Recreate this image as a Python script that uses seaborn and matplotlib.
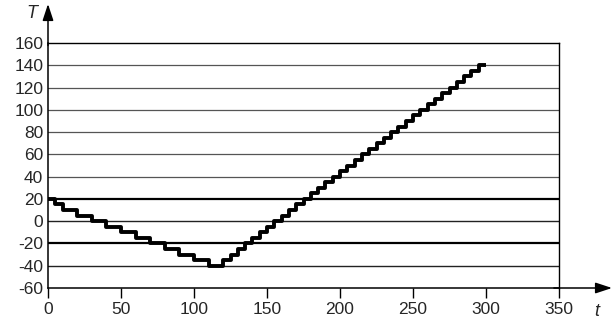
import matplotlib
matplotlib.use("Agg")
import matplotlib.pyplot as plt
import seaborn as sns
import pandas as pd

# ---- data ----
t_down = [0, 5, 10, 20, 30, 40, 50, 60, 70, 80, 90, 100, 110]
T_down = [20, 15, 10, 5, 0, -5, -10, -15, -20, -25, -30, -35, -40]
t_up = [120, 125, 130, 135, 140, 145, 150, 155, 160, 165, 170, 175, 180, 185,
        190, 195, 200, 205, 210, 215, 220, 225, 230, 235, 240, 245, 250, 255,
        260, 265, 270, 275, 280, 285, 290, 295, 300]
T_up = [-35, -30, -25, -20, -15, -10, -5, 0, 5, 10, 15, 20, 25, 30,
        35, 40, 45, 50, 55, 60, 65, 70, 75, 80, 85, 90, 95, 100,
        105, 110, 115, 120, 125, 130, 135, 140, 140]
x_ticks = [0, 50, 100, 150, 200, 250, 300, 350]
y_ticks = [-60, -40, -20, 0, 20, 40, 60, 80, 100, 120, 140, 160]
bold_levels = [20, -20]

df = pd.DataFrame({"t": t_down + t_up, "T": T_down + T_up})

sns.set_style("white")
plt.rcParams["font.family"] = ["Liberation Sans", "DejaVu Sans"]
plt.rcParams["axes.unicode_minus"] = False

fig = plt.figure(figsize=(6.13, 3.25), dpi=100)
ax = fig.add_axes([48 / 613, 37 / 325, 511 / 613, 245 / 325])

# horizontal grid lines
for y in y_ticks[1:-1]:
    if y in bold_levels:
        ax.axhline(y, color="black", lw=1.6, zorder=1)
    elif y > 20:
        ax.axhline(y, color="#555555", lw=0.9, zorder=1)
    else:
        ax.axhline(y, color="#222222", lw=1.0, zorder=1)

sns.lineplot(data=df, x="t", y="T", ax=ax, color="black", lw=2.8,
             drawstyle="steps-post", solid_capstyle="butt", zorder=3,
             sort=False)

ax.set_xlim(0, 350)
ax.set_ylim(-60, 160)
ax.set_xticks(x_ticks)
ax.set_yticks(y_ticks)
ax.set_xlabel("")
ax.set_ylabel("")

for side in ["top", "right"]:
    ax.spines[side].set_visible(True)
    ax.spines[side].set_color("black")
    ax.spines[side].set_linewidth(1.0)
for side in ["left", "bottom"]:
    ax.spines[side].set_color("black")
    ax.spines[side].set_linewidth(1.1)

ax.tick_params(axis="x", direction="out", length=7, width=1.0, color="black",
               pad=3, labelsize=12.5, bottom=True)
ax.tick_params(axis="y", length=0, pad=3.5, labelsize=12.5, left=False)

# axis arrows
ap = dict(arrowstyle="-|>,head_length=1.0,head_width=0.33", color="black",
          lw=1.1, mutation_scale=10, shrinkA=0, shrinkB=0)
ax.annotate("", xy=(0, (288 - 4) / 245), xytext=(0, 0.99),
            xycoords="axes fraction", textcoords="axes fraction",
            arrowprops=ap, annotation_clip=False)
ax.annotate("", xy=((612 - 48) / 511, 0), xytext=(0.99, 0),
            xycoords="axes fraction", textcoords="axes fraction",
            arrowprops=ap, annotation_clip=False)

fig.text(31.5 / 613, 1 - 13 / 325, "T", style="italic", fontsize=13,
         ha="center", va="center")
fig.text(597 / 613, 1 - 312 / 325, "t", style="italic", fontsize=13,
         ha="center", va="center")

fig.savefig("out.png", dpi=100)
